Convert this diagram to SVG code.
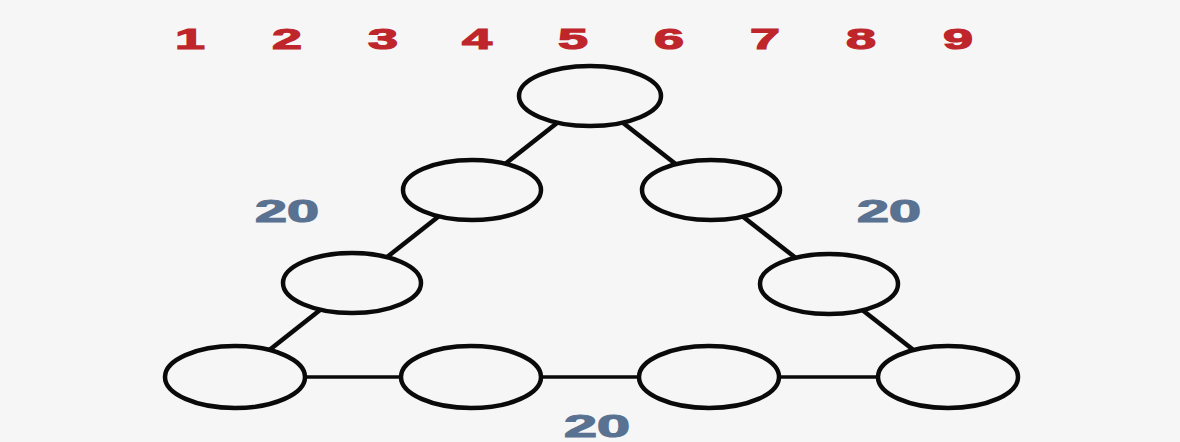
<svg xmlns="http://www.w3.org/2000/svg" width="1180" height="442" viewBox="0 0 1180 442">
<style>
.n{fill:#f6f6f6;stroke:#0a0a0a;stroke-width:4.5}
.c{stroke:#0a0a0a;stroke-width:4.5;fill:none}
.num{font-family:"Liberation Sans",Arial,sans-serif;font-weight:bold;font-size:30px;fill:#bf262c;stroke:#bf262c;stroke-width:1.2;text-anchor:middle}
.s{font-family:"Liberation Sans",Arial,sans-serif;font-weight:bold;font-size:31px;fill:#5a7291;stroke:#5a7291;stroke-width:1.2;text-anchor:middle}
</style>
<rect width="1180" height="442" fill="#f6f6f6"/>
<g id="numbers">
<text class="num" x="190" y="49" textLength="30" lengthAdjust="spacingAndGlyphs">1</text>
<text class="num" x="287" y="49" textLength="30" lengthAdjust="spacingAndGlyphs">2</text>
<text class="num" x="383" y="49" textLength="30" lengthAdjust="spacingAndGlyphs">3</text>
<text class="num" x="477" y="49" textLength="30" lengthAdjust="spacingAndGlyphs">4</text>
<text class="num" x="573" y="49" textLength="30" lengthAdjust="spacingAndGlyphs">5</text>
<text class="num" x="669" y="49" textLength="30" lengthAdjust="spacingAndGlyphs">6</text>
<text class="num" x="765" y="49" textLength="30" lengthAdjust="spacingAndGlyphs">7</text>
<text class="num" x="861" y="49" textLength="30" lengthAdjust="spacingAndGlyphs">8</text>
<text class="num" x="958" y="49" textLength="30" lengthAdjust="spacingAndGlyphs">9</text>
</g>
<g id="connectors">
<line class="c" x1="235" y1="377" x2="590" y2="97"/>
<line class="c" x1="948" y1="377" x2="590" y2="97"/>
<line class="c" x1="235" y1="377" x2="948" y2="377" style="stroke-width:3.5"/>
</g>
<g id="n1"><ellipse class="n" cx="590" cy="96" rx="71" ry="30"/></g>
<g id="n2"><ellipse class="n" cx="472" cy="190" rx="69" ry="30"/></g>
<g id="n3"><ellipse class="n" cx="711" cy="190" rx="69" ry="30"/></g>
<g id="n4"><ellipse class="n" cx="352" cy="283" rx="69" ry="30"/></g>
<g id="n5"><ellipse class="n" cx="829" cy="284" rx="69" ry="30"/></g>
<g id="n6"><ellipse class="n" cx="235" cy="377" rx="70" ry="31"/></g>
<g id="n7"><ellipse class="n" cx="471" cy="377" rx="70" ry="31"/></g>
<g id="n8"><ellipse class="n" cx="709" cy="377" rx="70" ry="31"/></g>
<g id="n9"><ellipse class="n" cx="948" cy="377" rx="70" ry="31"/></g>
<g id="sums">
<text class="s" x="287" y="222" textLength="64" lengthAdjust="spacingAndGlyphs">20</text>
<text class="s" x="889" y="222" textLength="64" lengthAdjust="spacingAndGlyphs">20</text>
<text class="s" x="597" y="437" textLength="66" lengthAdjust="spacingAndGlyphs">20</text>
</g>
</svg>
